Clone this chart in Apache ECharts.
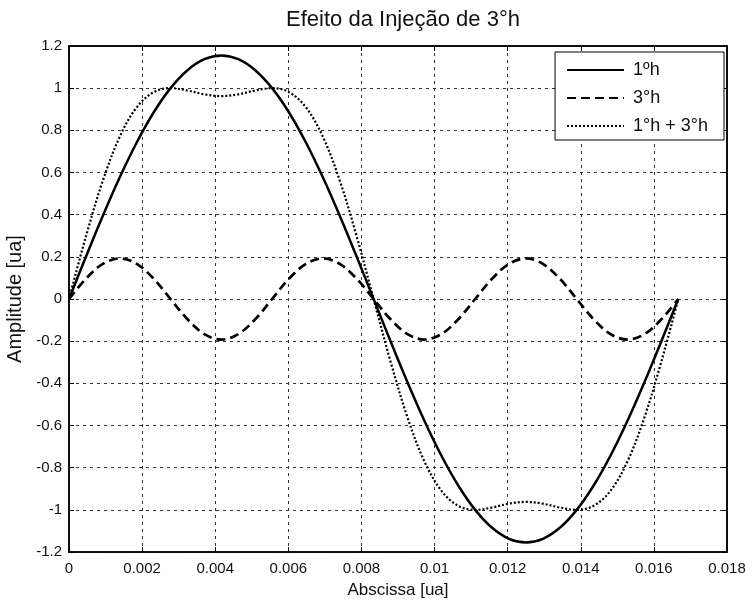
<!DOCTYPE html>
<html><head><meta charset="utf-8">
<script src="https://cdn.jsdelivr.net/npm/echarts@6/dist/echarts.min.js"></script>
<style>html,body{margin:0;padding:0;background:#fff}#c{width:745px;height:604px}</style>
</head><body><div id="c"></div>
<script>
const title = 'Efeito da Injeção de 3°h';
const xName = 'Abscissa [ua]';
const yName = 'Amplitude [ua]';
const seriesNames = ['1ºh', '3°h', '1°h + 3°h'];
const xValues = [0, 0.000463, 0.000926, 0.001389, 0.001852, 0.002315, 0.002778, 0.003241, 0.003704, 0.004167,
  0.00463, 0.005093, 0.005556, 0.006019, 0.006481, 0.006944, 0.007407, 0.00787, 0.008333,
  0.008796, 0.009259, 0.009722, 0.010185, 0.010648, 0.011111, 0.011574, 0.012037, 0.0125,
  0.012963, 0.013426, 0.013889, 0.014352, 0.014815, 0.015278, 0.015741, 0.016204, 0.016667];
const fundamental = [0, 0.2005, 0.395, 0.5775, 0.7424, 0.8847, 1.0002, 1.0853, 1.1375, 1.155,
  1.1375, 1.0853, 1.0002, 0.8847, 0.7424, 0.5775, 0.395, 0.2005, 0,
  -0.2005, -0.395, -0.5775, -0.7424, -0.8847, -1.0002, -1.0853, -1.1375, -1.155,
  -1.1375, -1.0853, -1.0002, -0.8847, -0.7424, -0.5775, -0.395, -0.2005, 0];
const third = [0, 0.0963, 0.1667, 0.1925, 0.1667, 0.0963, 0, -0.0963, -0.1667, -0.1925,
  -0.1667, -0.0963, 0, 0.0963, 0.1667, 0.1925, 0.1667, 0.0963, 0,
  -0.0963, -0.1667, -0.1925, -0.1667, -0.0963, 0, 0.0963, 0.1667, 0.1925,
  0.1667, 0.0963, 0, -0.0963, -0.1667, -0.1925, -0.1667, -0.0963, 0];
const combined = [0, 0.2968, 0.5617, 0.77, 0.9091, 0.981, 1.0002, 0.989, 0.9708, 0.9625,
  0.9708, 0.989, 1.0002, 0.981, 0.9091, 0.77, 0.5617, 0.2968, 0,
  -0.2968, -0.5617, -0.77, -0.9091, -0.981, -1.0002, -0.989, -0.9708, -0.9625,
  -0.9708, -0.989, -1.0002, -0.981, -0.9091, -0.77, -0.5617, -0.2968, 0];

const pair = arr => xValues.map((x, i) => [x, arr[i]]);
const fmt = v => String(parseFloat(v.toFixed(4)));
const font = '"Liberation Sans",Arial,sans-serif';
const gridLine = { show: true, lineStyle: { color: '#333', type: [3, 4], width: 1 } };
const boxAxisLine = { show: true, onZero: false, lineStyle: { color: '#000', width: 1.5 } };
const tick = { show: true, inside: true, length: 5, lineStyle: { color: '#000' } };

const chart = echarts.init(document.getElementById('c'), null, { renderer: 'canvas' });
chart.setOption({
  animation: false,
  backgroundColor: '#fff',
  title: { text: title, left: 398, top: 4, textAlign: 'center',
    textStyle: { fontFamily: font, fontSize: 22, fontWeight: 'normal', color: '#111' } },
  grid: { left: 69, right: 18, top: 46, bottom: 52, containLabel: false, outerBoundsMode: 'none',
    show: true, borderColor: '#000', borderWidth: 1.5 },
  legend: {
    right: 21, top: 52, orient: 'vertical', itemWidth: 57, itemHeight: 18, itemGap: 10,
    padding: [9, 16, 5, 11], backgroundColor: '#fff', borderColor: '#000', borderWidth: 1,
    itemStyle: { opacity: 0 },
    textStyle: { fontFamily: font, fontSize: 18, color: '#111', padding: [0, 0, 0, 4] },
    data: seriesNames
  },
  xAxis: [{
    type: 'value', min: 0, max: 0.018, interval: 0.002,
    name: xName, nameLocation: 'middle', nameGap: 30,
    nameTextStyle: { fontFamily: font, fontSize: 17, color: '#111' },
    axisLine: boxAxisLine, axisTick: tick,
    axisLabel: { formatter: fmt, fontFamily: font, fontSize: 15, color: '#111', margin: 9 },
    splitLine: gridLine
  }, {
    type: 'value', min: 0, max: 0.018, interval: 0.002, position: 'top',
    axisLine: boxAxisLine, axisTick: tick,
    axisLabel: { show: false }, splitLine: { show: false }
  }],
  yAxis: [{
    type: 'value', min: -1.2, max: 1.2, interval: 0.2,
    name: yName, nameLocation: 'middle', nameGap: 40,
    nameTextStyle: { fontFamily: font, fontSize: 20, color: '#111' },
    axisLine: boxAxisLine, axisTick: tick,
    axisLabel: { formatter: fmt, fontFamily: font, fontSize: 15, color: '#111', margin: 7 },
    splitLine: gridLine
  }, {
    type: 'value', min: -1.2, max: 1.2, interval: 0.2, position: 'right',
    axisLine: boxAxisLine, axisTick: tick,
    axisLabel: { show: false }, splitLine: { show: false }
  }],
  series: [
    { name: seriesNames[0], type: 'line', data: pair(fundamental), showSymbol: false, symbol: 'none', smooth: 0.35,
      lineStyle: { color: '#000', width: 2.5, type: 'solid' }, itemStyle: { color: '#000' } },
    { name: seriesNames[1], type: 'line', data: pair(third), showSymbol: false, symbol: 'none', smooth: 0.35,
      lineStyle: { color: '#000', width: 2.7, type: [9, 5] }, itemStyle: { color: '#000' } },
    { name: seriesNames[2], type: 'line', data: pair(combined), showSymbol: false, symbol: 'none', smooth: 0.35,
      lineStyle: { color: '#000', width: 2.2, type: [2, 2] }, itemStyle: { color: '#000' } }
  ]
});
</script></body></html>
